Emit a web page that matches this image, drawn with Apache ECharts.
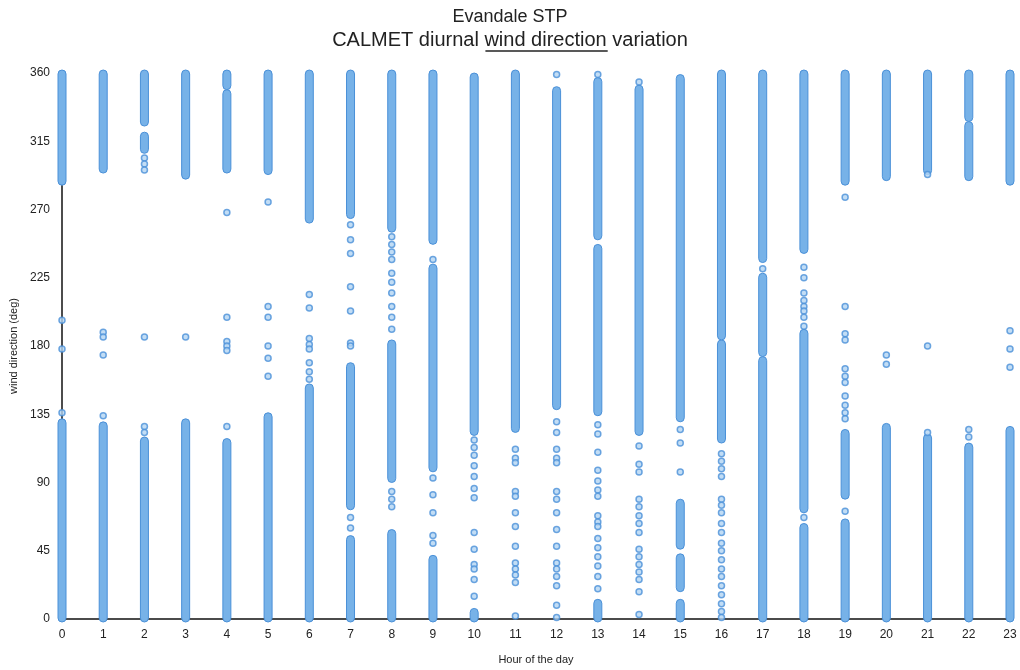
<!DOCTYPE html>
<html>
<head>
<meta charset="utf-8">
<script src="https://cdn.jsdelivr.net/npm/echarts@6/dist/echarts.min.js"></script>
<style>
  html, body { margin: 0; padding: 0; background: #fff; }
  #chart { width: 1020px; height: 670px; }
</style>
</head>
<body>
<div id="chart"></div>
<script>
// hours of the day on the x axis
const hours = [0, 1, 2, 3, 4, 5, 6, 7, 8, 9, 10, 11, 12, 13, 14, 15, 16, 17, 18, 19, 20, 21, 22, 23];

// dense runs of overlapping points, per hour: [from deg, to deg]
const denseBands = [
  [[0, 130], [288, 360]],
  [[0, 128], [296, 360]],
  [[0, 118], [309, 319], [327, 360]],
  [[0, 130], [292, 360]],
  [[0, 117], [296, 347], [351, 360]],
  [[0, 134], [295, 360]],
  [[0, 153], [263, 360]],
  [[0, 53], [74, 167], [266, 360]],
  [[0, 57], [92, 182], [257, 360]],
  [[0, 40], [99, 232], [249, 360]],
  [[0, 5], [123, 358]],
  [[125, 360]],
  [[140, 349]],
  [[0, 11], [136, 245], [252, 355]],
  [[123, 350]],
  [[0, 11], [20, 41], [48, 77], [132, 357]],
  [[118, 182], [186, 360]],
  [[0, 171], [175, 226], [237, 360]],
  [[0, 61], [72, 189], [243, 360]],
  [[0, 64], [81, 123], [288, 360]],
  [[0, 127], [291, 360]],
  [[0, 120], [295, 360]],
  [[0, 114], [291, 326], [330, 360]],
  [[0, 125], [288, 360]]
];

// isolated points, per hour (deg)
const singleDots = [
  [178, 197, 136],
  [189, 186, 174, 134],
  [304, 300, 296, 186, 127, 123],
  [186],
  [268, 199, 183, 180, 177, 127],
  [275, 206, 199, 180, 172, 160],
  [214, 205, 185, 181, 178, 169, 163, 158],
  [260, 250, 241, 219, 203, 182, 180, 60, 67],
  [252, 247, 242, 237, 228, 222, 215, 206, 199, 191, 84, 79, 74],
  [237, 93, 82, 70, 55, 50],
  [118, 113, 108, 101, 94, 86, 80, 57, 46, 36, 33, 26, 15],
  [112, 106, 103, 84, 81, 70, 61, 48, 37, 33, 29, 24, 2],
  [359, 130, 123, 112, 106, 103, 84, 79, 70, 59, 48, 37, 33, 28, 22, 9, 1],
  [359, 128, 122, 110, 98, 91, 85, 81, 68, 64, 61, 53, 47, 41, 35, 28, 20],
  [354, 114, 102, 97, 79, 74, 68, 63, 57, 46, 41, 36, 31, 26, 18, 3],
  [125, 116, 97],
  [109, 104, 99, 94, 79, 75, 70, 63, 57, 50, 45, 39, 33, 28, 22, 16, 10, 5, 1],
  [231],
  [232, 225, 215, 210, 206, 203, 199, 193, 67],
  [278, 206, 188, 184, 165, 160, 156, 147, 141, 136, 132, 71],
  [174, 168],
  [293, 180, 123],
  [125, 120],
  [190, 178, 166]
];

const titleLine1 = "Evandale STP";
const titlePre = "CALMET diurnal ";
const titleUnder = "wind direction";
const titlePost = " variation";

const FONT = "'Liberation Sans', Arial, sans-serif";
const BLUE_FILL = "#77b2e8";
const BLUE_LINE = "#4a90d8";

const bandData = [];
const dotData = [];
hours.forEach((h, i) => {
  denseBands[i].forEach(b => bandData.push([h, b[0], b[1]]));
  singleDots[i].forEach(d => dotData.push([h, d]));
});

// measure the second title line so the underline sits under "wind direction"
const ctx = document.createElement("canvas").getContext("2d");
const font1 = "18px " + FONT;
const font2 = "20px " + FONT;
ctx.font = font2;
const fullW = ctx.measureText(titlePre + titleUnder + titlePost).width;
const preW = ctx.measureText(titlePre).width;
const underW = ctx.measureText(titleUnder).width;
const ulX1 = 511 - fullW / 2 + preW;

const chart = echarts.init(document.getElementById("chart"));
chart.setOption({
  animation: false,
  backgroundColor: "#fff",
  graphic: [
    { type: "text", left: "center", top: 8, style: { text: titleLine1, font: font1, fill: "#222" } },
    { type: "text", left: "center", top: 30, style: { text: titlePre + titleUnder + titlePost, font: font2, fill: "#222" } },
    { type: "line", shape: { x1: ulX1, y1: 51, x2: ulX1 + underW, y2: 51 }, style: { stroke: "#222", lineWidth: 1.3 } }
  ],
  grid: { left: 62, right: 10, top: 73, bottom: 50 },
  xAxis: {
    type: "value",
    min: 0,
    max: 23,
    interval: 1,
    name: "Hour of the day",
    nameLocation: "middle",
    nameGap: 35,
    nameTextStyle: { fontFamily: FONT, fontSize: 11, color: "#222" },
    axisLine: { show: true, lineStyle: { color: "#111", width: 1.5 } },
    axisTick: { show: false },
    splitLine: { show: false },
    axisLabel: { fontFamily: FONT, fontSize: 12, color: "#222", margin: 10 }
  },
  yAxis: {
    type: "value",
    min: 0,
    max: 360,
    interval: 45,
    name: "wind direction (deg)",
    nameLocation: "middle",
    nameGap: 41,
    nameTextStyle: { fontFamily: FONT, fontSize: 11, color: "#222" },
    axisLine: { show: true, lineStyle: { color: "#111", width: 1.5 } },
    axisTick: { show: false },
    splitLine: { show: false },
    axisLabel: { fontFamily: FONT, fontSize: 12, color: "#222", margin: 12 }
  },
  series: [
    {
      type: "custom",
      clip: false,
      data: bandData,
      encode: { x: 0, y: [1, 2] },
      renderItem: (params, api) => {
        const top = api.coord([api.value(0), api.value(2)]);
        const bot = api.coord([api.value(0), api.value(1)]);
        const w = 8;
        return {
          type: "rect",
          shape: { x: top[0] - w / 2, y: top[1] - 3, width: w, height: bot[1] - top[1] + 6, r: 4 },
          style: { fill: BLUE_FILL, stroke: BLUE_LINE, lineWidth: 1 }
        };
      }
    },
    {
      type: "scatter",
      data: dotData,
      symbol: "circle",
      symbolSize: 6,
      itemStyle: { color: "#b3d4f2", borderColor: BLUE_LINE, borderWidth: 1.5 }
    }
  ]
});
</script>
</body>
</html>
